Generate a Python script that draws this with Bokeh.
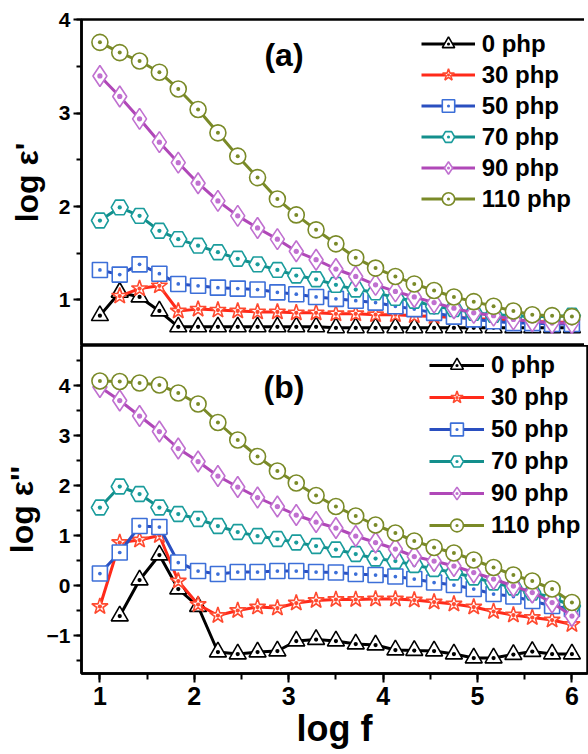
import math
from bokeh.plotting import figure
from bokeh.layouts import column
from bokeh.models import SingleIntervalTicker, Legend, LegendItem, Label, Range1d
from bokeh.embed import file_html
from bokeh.resources import INLINE

nan = float("nan")

# ---------------- data ----------------
log_f = [1.0, 1.21, 1.42, 1.63, 1.83, 2.04, 2.25, 2.46, 2.67, 2.88, 3.08, 3.29, 3.5,
         3.71, 3.92, 4.13, 4.33, 4.54, 4.75, 4.96, 5.17, 5.38, 5.58, 5.79, 6.0]

labels = ["0 php", "30 php", "50 php", "70 php", "90 php", "110 php"]

# panel (a): log eps'
a_0 = [0.83, 1.08, 1.03, 0.88, 0.71, 0.71, 0.71, 0.71, 0.71, 0.71, 0.71, 0.71, 0.70,
       0.70, 0.70, 0.70, 0.70, 0.70, 0.70, 0.70, 0.70, 0.70, 0.70, 0.70, 0.70]
a_30 = [nan, 1.04, 1.12, 1.15, 0.88, 0.90, 0.89, 0.88, 0.87, 0.87, 0.86, 0.86, 0.85,
        0.85, 0.84, 0.84, 0.83, 0.82, 0.81, 0.80, 0.79, 0.78, 0.77, 0.76, 0.76]
a_50 = [1.32, 1.27, 1.38, 1.28, 1.17, 1.15, 1.13, 1.12, 1.11, 1.08, 1.06, 1.03, 1.01,
        0.99, 0.97, 0.93, 0.90, 0.86, 0.82, 0.79, 0.77, 0.75, 0.75, 0.74, 0.74]
a_70 = [1.85, 1.99, 1.90, 1.74, 1.65, 1.58, 1.51, 1.44, 1.38, 1.32, 1.26, 1.22, 1.16,
        1.11, 1.08, 1.02, 0.99, 0.93, 0.90, 0.86, 0.84, 0.83, 0.82, 0.82, 0.83]
a_90 = [3.40, 3.18, 2.94, 2.69, 2.47, 2.25, 2.06, 1.90, 1.77, 1.65, 1.52, 1.43, 1.33,
        1.25, 1.16, 1.09, 1.03, 0.97, 0.91, 0.86, 0.83, 0.79, 0.77, 0.75, 0.75]
a_110 = [3.76, 3.65, 3.56, 3.44, 3.26, 3.04, 2.79, 2.54, 2.31, 2.08, 1.91, 1.75, 1.60,
         1.45, 1.34, 1.25, 1.17, 1.10, 1.03, 0.98, 0.93, 0.88, 0.84, 0.83, 0.82]

# panel (b): log eps''
b_0 = [nan, -0.61, 0.11, 0.61, -0.07, -0.42, -1.33, -1.37, -1.33, -1.31, -1.11, -1.08, -1.11,
       -1.17, -1.19, -1.29, -1.30, -1.31, -1.37, -1.45, -1.45, -1.38, -1.32, -1.37, -1.37]
b_30 = [-0.42, 0.86, 0.91, 1.00, 0.09, -0.38, -0.60, -0.50, -0.43, -0.45, -0.35, -0.30, -0.28,
        -0.28, -0.27, -0.27, -0.29, -0.33, -0.37, -0.43, -0.52, -0.59, -0.64, -0.69, -0.78]
b_50 = [0.24, 0.66, 1.19, 1.17, 0.46, 0.29, 0.23, 0.27, 0.27, 0.29, 0.29, 0.27, 0.26,
        0.23, 0.21, 0.18, 0.13, 0.06, 0.01, -0.07, -0.17, -0.22, -0.31, -0.41, -0.47]
b_70 = [1.56, 1.98, 1.83, 1.56, 1.43, 1.33, 1.19, 1.07, 0.99, 0.93, 0.86, 0.79, 0.72,
        0.63, 0.54, 0.49, 0.41, 0.33, 0.26, 0.16, 0.06, -0.04, -0.14, -0.24, -0.41]
b_90 = [3.97, 3.70, 3.39, 3.08, 2.74, 2.48, 2.19, 1.97, 1.76, 1.58, 1.41, 1.27, 1.15,
        0.99, 0.86, 0.73, 0.58, 0.49, 0.39, 0.26, 0.13, -0.01, -0.14, -0.34, -0.61]
b_110 = [4.09, 4.08, 4.05, 4.01, 3.85, 3.63, 3.26, 2.91, 2.58, 2.29, 2.05, 1.80, 1.58,
         1.39, 1.21, 1.05, 0.89, 0.76, 0.65, 0.51, 0.36, 0.21, 0.09, -0.07, -0.34]

series_a = [a_0, a_30, a_50, a_70, a_90, a_110]
series_b = [b_0, b_30, b_50, b_70, b_90, b_110]

# ---------------- styles ----------------
line_colors = ["#000000", "#ff2a1a", "#2a4fc0", "#138f8c", "#b048b8", "#7a8a28"]
mark_colors = ["#000000", "#ff4a30", "#3c6fd8", "#1a9c9c", "#c070d0", "#7a8a28"]
markers = ["triangle_dot", "star_dot", "square_dot", "hex_dot", "diamond_dot", "circle_dot"]
msizes = [17, 17, 15, 17, 21, 16]

FONT = "Liberation Sans"
x_range = Range1d(0.805, 6.165)


def style(p, ylabel, label_standoff):
    p.outline_line_color = "black"
    p.outline_line_width = 2.5
    p.background_fill_color = "white"
    p.border_fill_color = "white"
    p.xgrid.visible = False
    p.ygrid.visible = False
    for ax in p.yaxis:
        ax.ticker = SingleIntervalTicker(interval=1, num_minor_ticks=2)
        ax.axis_label = ylabel
        ax.axis_label_text_font = FONT
        ax.axis_label_text_font_size = "32px"
        ax.axis_label_text_font_style = "bold"
        ax.axis_label_text_color = "black"
        ax.axis_label_standoff = label_standoff
        ax.major_label_text_font = FONT
        ax.major_label_text_font_size = "21px"
        ax.major_label_text_font_style = "bold"
        ax.major_label_text_color = "black"
        ax.major_label_standoff = 3
        ax.axis_line_width = 2.5
        ax.axis_line_color = "black"
        ax.major_tick_line_width = 2
        ax.minor_tick_line_width = 2
        ax.major_tick_out = 8
        ax.major_tick_in = 0
        ax.minor_tick_out = 5
        ax.minor_tick_in = 0


def draw(p, ys):
    items = []
    for k, y in enumerate(ys):
        src = dict(x=log_f, y=y)
        lr = p.line(x="x", y="y", source=src, line_color=line_colors[k], line_width=3)
        mr = p.scatter(x="x", y="y", source=src, marker=markers[k], size=msizes[k],
                       line_color=mark_colors[k], line_width=1.6, fill_color="white")
        items.append(LegendItem(label=labels[k], renderers=[lr, mr]))
    return items


def legend(items, loc, gw, pitch):
    lg = Legend(items=items, location=loc, glyph_width=gw, glyph_height=pitch,
                label_height=pitch, spacing=0, padding=0, margin=0,
                label_standoff=7, label_text_font=FONT, label_text_font_size="24px",
                label_text_font_style="bold", label_text_color="black",
                border_line_alpha=0, background_fill_alpha=0)
    return lg


# ---------------- panel (a) ----------------
p1 = figure(frame_width=506, frame_height=326, x_range=x_range, y_range=Range1d(0.51, 4.005),
            output_backend="svg", toolbar_location=None,
            min_border_left=72, min_border_right=2, min_border_top=19, min_border_bottom=0)
style(p1, "log ε'", 11)
p1.xaxis.visible = False
items1 = draw(p1, series_a)
p1.add_layout(legend(items1, (344, 131), 54, 31))
p1.add_layout(Label(x=2.95, y=3.62, text="(a)", text_font=FONT, text_font_size="32px",
                    text_font_style="bold", text_color="black",
                    text_align="center", text_baseline="middle"))

# ---------------- panel (b) ----------------
p2 = figure(frame_width=506, frame_height=328, x_range=x_range, y_range=Range1d(-1.76, 4.8),
            output_backend="svg", toolbar_location=None,
            min_border_left=72, min_border_right=2, min_border_top=0, min_border_bottom=10)
style(p2, "log ε''", 4)
xa = p2.xaxis[0]
xa.ticker = SingleIntervalTicker(interval=1, num_minor_ticks=2)
xa.axis_label = "log f"
xa.axis_label_text_font = FONT
xa.axis_label_text_font_size = "36px"
xa.axis_label_text_font_style = "bold"
xa.axis_label_text_color = "black"
xa.axis_label_standoff = 0
xa.major_label_text_font = FONT
xa.major_label_text_font_size = "25px"
xa.major_label_text_font_style = "bold"
xa.major_label_text_color = "black"
xa.major_label_standoff = 4
xa.axis_line_width = 2.5
xa.axis_line_color = "black"
xa.major_tick_line_width = 2
xa.minor_tick_line_width = 2
xa.major_tick_out = 9
xa.major_tick_in = 0
xa.minor_tick_out = 6
xa.minor_tick_in = 0
items2 = draw(p2, series_b)
p2.add_layout(legend(items2, (348, 132), 55, 32))
p2.add_layout(Label(x=2.95, y=3.98, text="(b)", text_font=FONT, text_font_size="32px",
                    text_font_style="bold", text_color="black",
                    text_align="center", text_baseline="middle"))

layout = column(p1, p2, spacing=0)
open("out.html", "w").write(file_html(layout, INLINE))
